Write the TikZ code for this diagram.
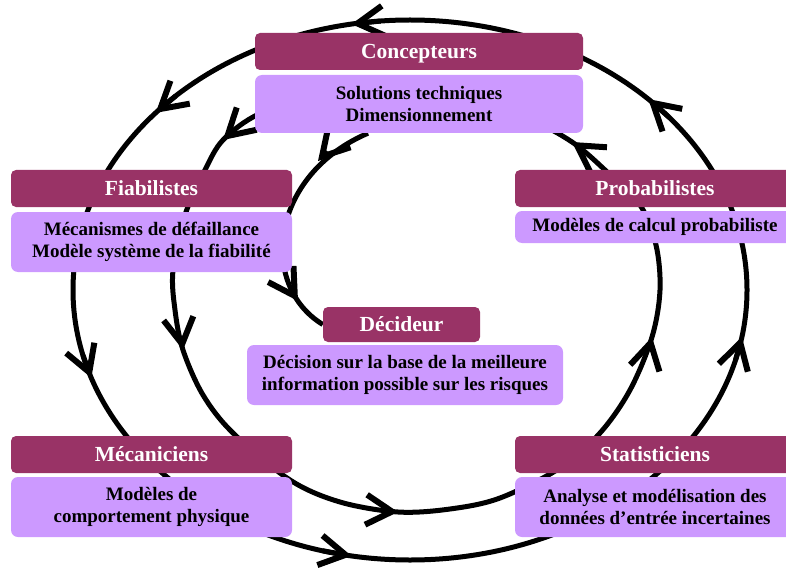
\documentclass[tikz,border=0pt]{standalone}
\usepackage{fontspec}
\setmainfont{Liberation Serif}
\usetikzlibrary{arrows.meta}
\definecolor{hdr}{HTML}{993366}
\definecolor{bdy}{HTML}{CC99FF}
\pgfdeclarelayer{bg}
\pgfsetlayers{bg,main}
\begin{document}
\begin{tikzpicture}[x=1pt,y=-1pt,
  hbox/.style={rectangle, rounded corners=5pt, fill=hdr, draw=none, text=white,
    font=\fontsize{21.5}{24}\selectfont\bfseries, inner sep=0pt, align=center,
    text height=14pt, text depth=0pt},
  bbox/.style={rectangle, rounded corners=7pt, fill=bdy, draw=none, text=black,
    font=\fontsize{19}{22.5}\selectfont\bfseries, inner sep=0pt, align=center},
  loopline/.style={line width=5pt, black},
  tipd/.style={loopline, -{Straight Barb[length=26pt,width=30pt,line width=6pt]}}
]
\useasboundingbox (0,0) rectangle (786,572);
\clip (0,0) rectangle (786,572);
% boxes
\node[hbox, minimum width=328pt, minimum height=37pt] (concH) at (419,51.5) {Concepteurs};
\node[bbox, minimum width=328pt, minimum height=58pt] (concB) at (419,104) {Solutions techniques\\Dimensionnement};
\node[hbox, minimum width=281pt, minimum height=37pt] (fiabH) at (151.5,188.5) {Fiabilistes};
\node[bbox, minimum width=281pt, minimum height=60pt] (fiabB) at (151.5,242) {Mécanismes de défaillance\\Modèle système de la fiabilité};
\node[hbox, minimum width=280pt, minimum height=37pt] (probH) at (655,188.5) {Probabilistes};
\node[bbox, minimum width=280pt, minimum height=32pt] (probB) at (655,227) {Modèles de calcul probabiliste};
\node[hbox, minimum width=157pt, minimum height=35pt] (decH) at (401.5,324.5) {Décideur};
\node[bbox, minimum width=316pt, minimum height=60pt] (decB) at (405,375) {Décision sur la base de la meilleure\\information possible sur les risques};
\node[hbox, minimum width=281pt, minimum height=37pt] (mecH) at (151.5,454.5) {Mécaniciens};
\node[bbox, minimum width=281pt, minimum height=60pt] (mecB) at (151.5,507) {Modèles de\\comportement physique};
\node[hbox, minimum width=280pt, minimum height=37pt] (statH) at (655,454.5) {Statisticiens};
\node[bbox, minimum width=280pt, minimum height=60pt] (statB) at (655,507) {Analyse et modélisation des\\données d’entrée incertaines};
% loops
\begin{pgfonlayer}{bg}
\draw[loopline] (410,290) ellipse [x radius=337, y radius=270];
\foreach \t in {-45,-100,-139,-199,-260,-350}
  \draw[tipd] ({410+337*cos(\t+5)},{290+270*sin(\t+5)}) -- ({410+337*cos(\t)},{290+270*sin(\t)});
\draw[loopline] plot[smooth cycle, tension=0.55] coordinates {
  (400,100) (300,104) (257,115) (223,140) (205,170) (185,215) (173,270)
  (175,310) (183,350) (203,395) (233,433) (290,480) (340,502) (398,512)
  (450,509) (500,498) (560,468) (600,433) (630,390) (652,337) (660,290)
  (656,245) (640,205) (605,170) (572,142) (530,120) (470,104)};
\draw[tipd] (233,131) -- (223,140);
\draw[tipd] (181,336) -- (183,350);
\draw[tipd] (384,511) -- (398,512);
\draw[tipd] (649,350) -- (652,337);
\draw[tipd] (584,150) -- (572,142);
\draw[loopline] ([xshift=-51pt]concB.south) .. controls (270,175) and (258,285) .. (decH.west);
\draw[tipd] (327,151) -- (318,161);
\draw[tipd] (291,290) -- (298,301);
\end{pgfonlayer}
\end{tikzpicture}
\end{document}
